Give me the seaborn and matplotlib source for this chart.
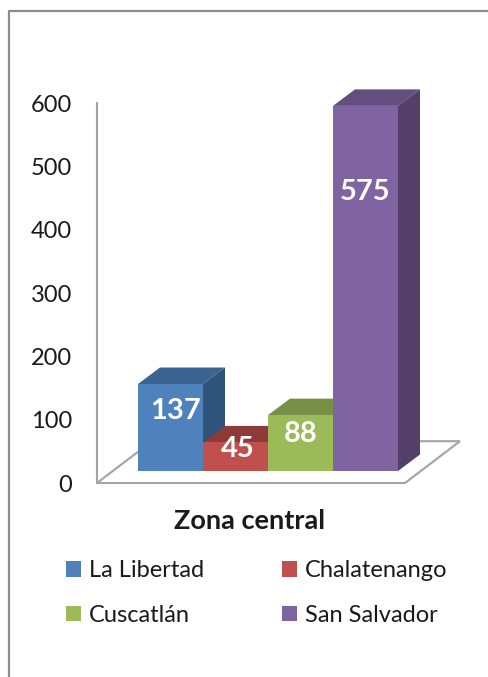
import matplotlib
matplotlib.use('Agg')
import matplotlib.pyplot as plt
from matplotlib.lines import Line2D
from matplotlib.patches import Patch, Polygon
import seaborn as sns

zonas = ['La Libertad', 'Chalatenango', 'Cuscatlán', 'San Salvador']
valores = [137, 45, 88, 575]
colores = ['#4F81BD', '#C0504D', '#9BBB59', '#8064A2']
colores_top = ['#3A6491', '#8E3A38', '#779045', '#644E80']
colores_side = ['#2F5379', '#773130', '#637A39', '#533F68']
y_ticks = [0, 100, 200, 300, 400, 500, 600]

# where each label sits on its bar (fraction of height, shift in x)
label_frac = [0.69, 0.76, 0.66, 0.765]
label_dx = [0.07, 0.04, 0, 0]

W, H = 489, 677
GRIS = '#A3A3A3'

sns.set_theme(style='white')
plt.rcParams['font.family'] = ['Lato', 'DejaVu Sans']

fig = plt.figure(figsize=(W / 100, H / 100), dpi=100, facecolor='white')


def px_axes(left, right, top, bottom):
    return fig.add_axes([left / W, 1 - bottom / H, (right - left) / W, (bottom - top) / H])


# wall and floor, this axes carries the value scale
ax_wall = px_axes(97, 405, 103, 483)
ax_wall.set_xlim(0, 1)
ax_wall.set_ylim(0, 600)
ax_wall.set_yticks(y_ticks)
ax_wall.set_xticks([])
ax_wall.tick_params(axis='y', length=0, pad=18, labelsize=17, labelcolor='#1a1a1a')
sns.despine(ax=ax_wall, top=True, right=True, bottom=True)
ax_wall.spines['left'].set_color(GRIS)
ax_wall.spines['left'].set_linewidth(1.5)
ax_wall.patch.set_alpha(0)

floor_dx = 55 / 308
floor_dy = 66
ax_wall.add_patch(Polygon([(0, 0), (1, 0), (1 + floor_dx, floor_dy), (floor_dx, floor_dy)],
                          closed=True, facecolor='white', edgecolor=GRIS, linewidth=1.5,
                          clip_on=False))

# bars, the baseline is the front edge of the box
ax = px_axes(97, 465, 90, 471)
df_zonas = {'zona': zonas, 'valor': valores}
sns.barplot(data=df_zonas, x='zona', y='valor', hue='zona', palette=colores, width=1,
            saturation=1, dodge=False, legend=False, ax=ax)
ax.set_xlim((97 - 138) / 65 - 0.5, (465 - 138) / 65 - 0.5)
ax.set_ylim(0, 600)
ax.set_axis_off()

depth_x = 22 / 65
depth_y = 16.5 / 0.635

for i, bar in enumerate(ax.patches):
    x0 = bar.get_x()
    x1 = x0 + bar.get_width()
    v = bar.get_height()
    ax.add_patch(Polygon([(x0, v), (x1, v), (x1 + depth_x, v + depth_y), (x0 + depth_x, v + depth_y)],
                         closed=True, facecolor=colores_top[i], edgecolor='none',
                         zorder=2 + i * 2, clip_on=False))
    ax.add_patch(Polygon([(x1, 0), (x1, v), (x1 + depth_x, v + depth_y), (x1 + depth_x, depth_y)],
                         closed=True, facecolor=colores_side[i], edgecolor='none',
                         zorder=2 + i * 2, clip_on=False))
    bar.set_zorder(3 + i * 2)
    bar.set_edgecolor('none')
    ax.text(x0 + 0.5 + label_dx[i], v * label_frac[i], str(valores[i]), color='white',
            fontsize=21, fontweight='bold', ha='center', va='center', zorder=20)

fig.text(250 / W, 1 - 521 / H, 'Zona central', fontsize=19.5, fontweight='bold',
         color='#1a1a1a', ha='center', va='center')

# legend fills by column, the reference reads by row
orden = [0, 2, 1, 3]
handles = [Patch(facecolor=colores[i], edgecolor='none') for i in orden]
labels = [zonas[i] for i in orden]
leg = fig.legend(handles, labels, ncol=2, loc='upper left', bbox_to_anchor=(66 / W, 1 - 560 / H),
                 frameon=False, fontsize=17, labelcolor='#1a1a1a', borderpad=0, borderaxespad=0,
                 handlelength=0.64, handleheight=0.64, handletextpad=0.34,
                 labelspacing=1.0, columnspacing=3.3)

# outer frame of the pasted chart
fig.add_artist(Line2D([9 / W, 9 / W, 1], [0, 1 - 11 / H, 1 - 11 / H], color='#8C8C8C', linewidth=1.6))

fig.savefig('out.png', dpi=100)
plt.close(fig)
